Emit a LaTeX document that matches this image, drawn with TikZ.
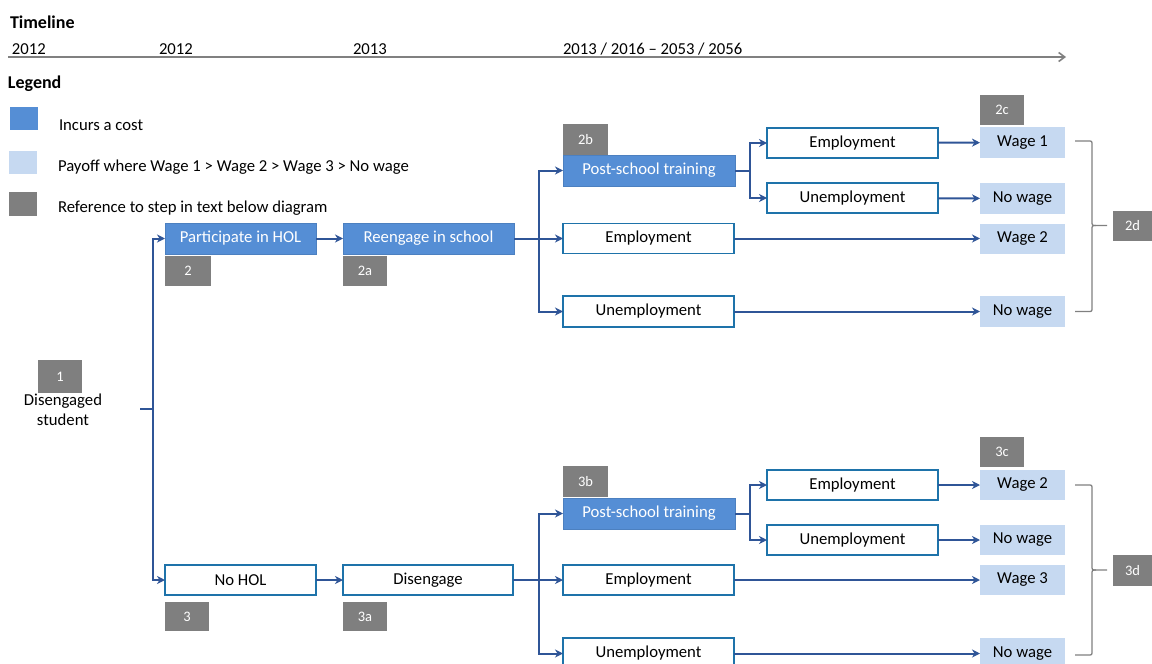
\documentclass[tikz,border=0pt]{standalone}
\usepackage{fontspec}
\setmainfont{Carlito}
\usetikzlibrary{arrows.meta}
\definecolor{costblue}{RGB}{85,142,213}
\definecolor{payblue}{RGB}{198,217,241}
\definecolor{refgrey}{RGB}{127,127,127}
\definecolor{boxline}{RGB}{30,115,170}
\definecolor{connblue}{RGB}{47,85,151}
\definecolor{axisgrey}{RGB}{128,128,128}
\tikzset{
  every node/.style={inner sep=0pt, outer sep=0pt},
  txt/.style={font=\fontsize{16.7}{19}\selectfont, text=black},
  costbox/.style={fill=costblue, draw=costblue!90!black, line width=0.6pt, text=white, font=\fontsize{16.7}{19}\selectfont},
  plainbox/.style={fill=white, draw=boxline, line width=1.8pt, text=black, font=\fontsize{16.7}{19}\selectfont},
  paybox/.style={fill=payblue, text=black, font=\fontsize{16.7}{19}\selectfont},
  refbox/.style={fill=refgrey, text=white, font=\fontsize{14.5}{16}\selectfont},
  conn/.style={draw=connblue, line width=2pt, -{Stealth[length=8pt,width=8pt,inset=2.5pt]}},
  connline/.style={draw=connblue, line width=2pt},
  bracestyle/.style={draw=axisgrey, line width=1.3pt, line join=round},
  sz/.style 2 args={minimum width=#1pt, minimum height=#2pt}
}
\begin{document}
\begin{tikzpicture}[x=1pt,y=-1pt]
\useasboundingbox (0,0) rectangle (1152,664);

% Timeline
\node[anchor=west, font=\fontsize{18}{20}\selectfont\bfseries] (tl) at (10,22) {Timeline};
\coordinate (axs) at (8,57);
\coordinate (axe) at (1066,57);
\draw[draw=axisgrey, line width=1.6pt, -{Straight Barb[length=6pt,width=9pt]}] (axs) -- (axe);
\node[txt, anchor=base west] (y1) at (12,54) {2012};
\node[txt, anchor=base west] (y2) at (159,54) {2012};
\node[txt, anchor=base west] (y3) at (353,54) {2013};
\node[txt, anchor=base west] (y4) at (563,54) {2013 / 2016 -- 2053 / 2056};

% Legend
\node[anchor=west, font=\fontsize{18}{20}\selectfont\bfseries] (lg) at (8,84) {Legend};
\node[fill=costblue, sz={28}{23}] (lc) at (24,118.5) {};
\node[fill=payblue, sz={28}{23}] (lp) at (23,162.5) {};
\node[fill=refgrey, sz={28}{24}] (lr) at (23,204) {};
\node[txt, anchor=base west] (lct) at (59,130) {Incurs a cost};
\node[txt, anchor=base west] (lpt) at (58,171) {Payoff where Wage 1 > Wage 2 > Wage 3 > No wage};
\node[txt, anchor=base west] (lrt) at (58,212) {Reference to step in text below diagram};

% Start
\node[refbox, sz={44}{33}] (s1) at (60,376.5) {1};
\node[txt, align=center, font=\fontsize{16.7}{20}\selectfont] (start) at (63,409.5) {Disengaged\\student};
\coordinate (st0) at (140,409);
\coordinate (st1) at (153,409);

% Upper branch
\node[costbox, sz={151}{31}] (hol) at (240.5,238.5) {Participate in HOL};
\node[refbox, sz={46}{30}] (s2) at (188,271) {2};
\node[costbox, sz={171}{31}] (reng) at (428.5,238.5) {Reengage in school};
\node[refbox, sz={44}{30}] (s2a) at (365,271) {2a};
\node[costbox, sz={172}{31}] (pst1) at (649,170.5) {Post-school training};
\node[refbox, sz={45}{31}] (s2b) at (585.5,139.5) {2b};
\node[plainbox, sz={171}{30}] (emp1) at (648.5,238.5) {Employment};
\node[plainbox, sz={171}{31}] (unemp1) at (648.5,311.5) {Unemployment};
\node[plainbox, sz={171}{30}] (emp1a) at (852.5,143) {Employment};
\node[plainbox, sz={171}{30}] (unemp1a) at (852.5,198) {Unemployment};
\node[paybox, sz={85}{31}] (w1) at (1022.5,142.5) {Wage 1};
\node[refbox, sz={44}{30}] (s2c) at (1002,110) {2c};
\node[paybox, sz={85}{31}] (nw1a) at (1022.5,198.5) {No wage};
\node[paybox, sz={85}{30}] (w2) at (1022.5,238.5) {Wage 2};
\node[paybox, sz={85}{31}] (nw1) at (1022.5,311.5) {No wage};
\node[refbox, sz={39}{30}] (s2d) at (1132.5,226) {2d};

% Lower branch
\node[plainbox, sz={151}{30}] (nohol) at (240.5,580) {No HOL};
\node[refbox, sz={44}{29}] (s3) at (187,616.5) {3};
\node[plainbox, sz={170}{30}] (dis) at (428,580) {Disengage};
\node[refbox, sz={44}{29}] (s3a) at (365,616.5) {3a};
\node[costbox, sz={172}{31}] (pst2) at (649,513.5) {Post-school training};
\node[refbox, sz={45}{31}] (s3b) at (585.5,481.5) {3b};
\node[plainbox, sz={171}{30}] (emp2) at (648.5,580) {Employment};
\node[plainbox, sz={171}{31}] (unemp2) at (648.5,653.5) {Unemployment};
\node[plainbox, sz={171}{30}] (emp2a) at (852.5,485) {Employment};
\node[plainbox, sz={171}{30}] (unemp2a) at (852.5,540) {Unemployment};
\node[paybox, sz={85}{30}] (w2b) at (1022.5,485) {Wage 2};
\node[refbox, sz={44}{30}] (s3c) at (1002,452) {3c};
\node[paybox, sz={85}{30}] (nw2a) at (1022.5,540) {No wage};
\node[paybox, sz={85}{30}] (w3) at (1022.5,580) {Wage 3};
\node[paybox, sz={85}{31}] (nw2) at (1022.5,653.5) {No wage};
\node[refbox, sz={39}{31}] (s3d) at (1132.5,570.5) {3d};

% Connectors: start
\draw[connline] (st0) -- (st1);
\draw[conn] (st1) |- (hol.west);
\draw[conn] (st1) |- (nohol.west);
\draw[conn] (hol) -- (reng);
\draw[conn] (nohol) -- (dis);

% Upper connectors
\coordinate (b1) at (539,238.5);
\draw[conn] (reng.east) -- (emp1.west);
\draw[conn] (b1) |- (pst1.west);
\draw[conn] (b1) |- (unemp1.west);
\coordinate (c1) at (750,170.5);
\draw[connline] (pst1.east) -- (c1);
\draw[conn] (c1) |- (emp1a.west);
\draw[conn] (c1) |- (unemp1a.west);
\draw[conn] (emp1a) -- (w1);
\draw[conn] (unemp1a) -- (nw1a);
\draw[conn] (emp1) -- (w2);
\draw[conn] (unemp1) -- (nw1);

% Lower connectors
\coordinate (b2) at (539,580);
\draw[conn] (dis.east) -- (emp2.west);
\draw[conn] (b2) |- (pst2.west);
\draw[conn] (b2) |- (unemp2.west);
\coordinate (c2) at (750,513.5);
\draw[connline] (pst2.east) -- (c2);
\draw[conn] (c2) |- (emp2a.west);
\draw[conn] (c2) |- (unemp2a.west);
\draw[conn] (emp2a) -- (w2b);
\draw[conn] (unemp2a) -- (nw2a);
\draw[conn] (emp2) -- (w3);
\draw[conn] (unemp2) -- (nw2);

% Braces
\draw[bracestyle] (1075,141) -- (1088,141) .. controls (1092,141) .. (1092,145)
  -- (1092,221) .. controls (1092,225.5) .. (1096,225.5) -- (1107,225.5);
\draw[bracestyle] (1075,311.5) -- (1088,311.5) .. controls (1092,311.5) .. (1092,307.5)
  -- (1092,230) .. controls (1092,225.5) .. (1096,225.5);
\draw[bracestyle] (1075,485) -- (1088,485) .. controls (1092,485) .. (1092,489)
  -- (1092,565.5) .. controls (1092,570) .. (1096,570) -- (1107,570);
\draw[bracestyle] (1075,655) -- (1088,655) .. controls (1092,655) .. (1092,651)
  -- (1092,574.5) .. controls (1092,570) .. (1096,570);
\end{tikzpicture}
\end{document}
